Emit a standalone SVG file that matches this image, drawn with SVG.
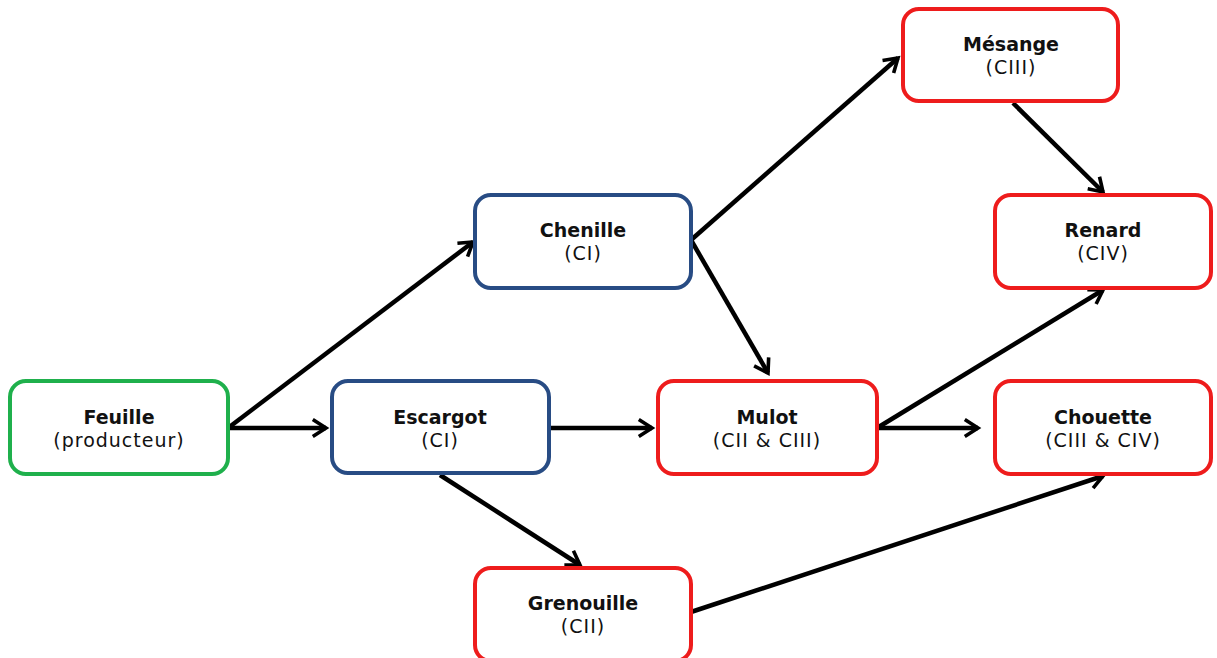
<svg xmlns="http://www.w3.org/2000/svg" width="1217" height="658" viewBox="0 0 1217 658">
<style>
.box{fill:#fff;stroke-width:4}
.g{stroke:#1fb04c}.b{stroke:#284c84}.r{stroke:#ee1c1c}
.t{font-family:"Comic Sans MS","DejaVu Sans",sans-serif;font-size:19px;text-anchor:middle;fill:#111}
.s{letter-spacing:1px}
.h{font-weight:bold}
.c line{stroke:#000;stroke-width:4.5;marker-end:url(#ah)}
</style>
<defs>
<marker id="ah" viewBox="0 0 10 10" refX="9" refY="5" markerWidth="6" markerHeight="6" markerUnits="userSpaceOnUse" orient="auto" overflow="visible">
<path d="M-13,-9 L9,5 L-13,19" fill="none" stroke="#000" stroke-width="6" stroke-linejoin="miter"/>
</marker>
</defs>
<rect width="1217" height="658" fill="#fff"/>
<g class="c">
<line x1="228" y1="428" x2="473" y2="242"/>
<line x1="228" y1="428" x2="326" y2="428"/>
<line x1="551" y1="428" x2="652" y2="428"/>
<line x1="440" y1="475" x2="580" y2="565"/>
<line x1="691" y1="240" x2="898" y2="58"/>
<line x1="691" y1="240" x2="768" y2="373"/>
<line x1="1013" y1="103" x2="1103" y2="192"/>
<line x1="877" y1="428" x2="1103" y2="290"/>
<line x1="877" y1="428" x2="978" y2="428"/>
<line x1="691" y1="612" x2="1103" y2="476"/>
</g>
<g id="feuille"><rect class="box g" x="10" y="381" width="218" height="93" rx="16"/><text class="t h" x="119" y="424">Feuille</text><text class="t s" x="119" y="447">(producteur)</text></g>
<g id="escargot"><rect class="box b" x="332" y="381" width="217" height="92" rx="16"/><text class="t h" x="440" y="424">Escargot</text><text class="t s" x="440" y="447">(CI)</text></g>
<g id="chenille"><rect class="box b" x="475" y="195" width="216" height="93" rx="16"/><text class="t h" x="583" y="237">Chenille</text><text class="t s" x="583" y="260">(CI)</text></g>
<g id="mesange"><rect class="box r" x="903" y="9" width="215" height="92" rx="16"/><text class="t h" x="1011" y="51">Mésange</text><text class="t s" x="1011" y="74">(CIII)</text></g>
<g id="renard"><rect class="box r" x="995" y="195" width="216" height="93" rx="16"/><text class="t h" x="1103" y="237">Renard</text><text class="t s" x="1103" y="260">(CIV)</text></g>
<g id="mulot"><rect class="box r" x="658" y="381" width="219" height="93" rx="16"/><text class="t h" x="767" y="424">Mulot</text><text class="t s" x="767" y="447">(CII &amp; CIII)</text></g>
<g id="chouette"><rect class="box r" x="995" y="381" width="216" height="93" rx="16"/><text class="t h" x="1103" y="424">Chouette</text><text class="t s" x="1103" y="447">(CIII &amp; CIV)</text></g>
<g id="grenouille"><rect class="box r" x="475" y="568" width="216" height="93" rx="16"/><text class="t h" x="583" y="610">Grenouille</text><text class="t s" x="583" y="633">(CII)</text></g>
</svg>
